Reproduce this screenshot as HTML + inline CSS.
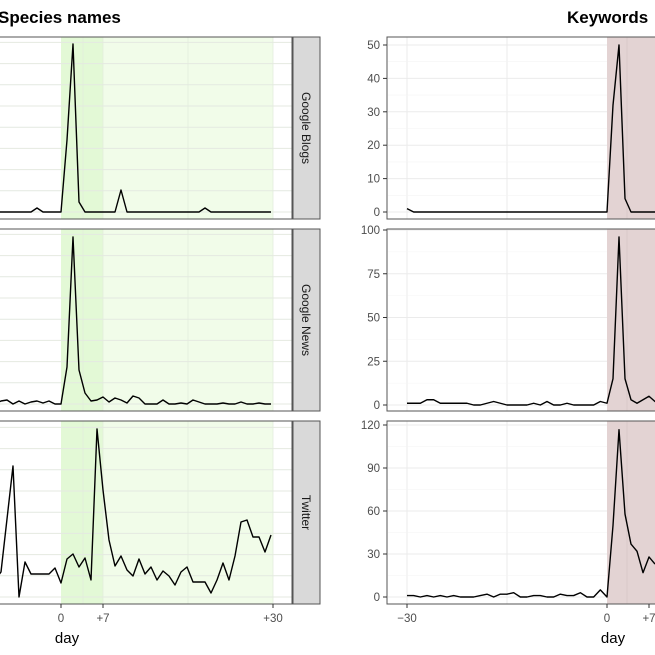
<!DOCTYPE html>
<html><head><meta charset="utf-8"><style>
body{margin:0;background:#fff;width:655px;height:655px;overflow:hidden}
svg{display:block;font-family:"Liberation Sans",sans-serif}
</style></head><body>
<svg id="s" width="655" height="655" xmlns="http://www.w3.org/2000/svg"></svg>
<script>
const S=document.getElementById('s');let h='';
const panels=[[37,219],[229,411],[421,604]];
function xl(d){return 61+6*d;}
function xr(d){return d<0?607+6.667*d:607+6*d;}
h+=`<text x="-2" y="23" font-size="17" font-weight="bold">Species names</text>`;
h+=`<text x="567" y="23" font-size="17" font-weight="bold">Keywords</text>`;
panels.forEach(([t,b])=>{
 h+=`<rect x="0" y="${t}" width="292" height="${b-t}" fill="#fff"/>`;
 h+=`<rect x="61" y="${t}" width="42" height="${b-t}" fill="#e3f9d6"/>`;
 h+=`<rect x="103" y="${t}" width="170" height="${b-t}" fill="#f1fce9"/>`;
 for(let k=0;k<9;k++){let y=b-7-k*21.2; if(y>t)h+=`<line x1="0" x2="292" y1="${y}" y2="${y}" stroke="#e4e9e1" stroke-width="1"/>`;}
 [83,103,188,273].forEach(x=>h+=`<line x1="${x}" x2="${x}" y1="${t}" y2="${b}" stroke="#e3ebdd" stroke-width="0.8"/>`);
 h+=`<rect x="-1" y="${t}" width="293" height="${b-t}" fill="none" stroke="#555" stroke-width="1"/>`;
 h+=`<rect x="293" y="${t}" width="27" height="${b-t}" fill="#d9d9d9" stroke="#555" stroke-width="1"/>`;
 h+=`<rect x="387" y="${t}" width="270" height="${b-t}" fill="#fff"/>`;
 h+=`<rect x="607" y="${t}" width="50" height="${b-t}" fill="#e3d3d3"/>`;
 [407,507].forEach(x=>h+=`<line x1="${x}" x2="${x}" y1="${t}" y2="${b}" stroke="#ebebeb" stroke-width="1"/>`);
 h+=`<line x1="627" x2="627" y1="${t}" y2="${b}" stroke="#d8c8c8" stroke-width="0.8"/>`;
 h+=`<rect x="387" y="${t}" width="270" height="${b-t}" fill="none" stroke="#555" stroke-width="1"/>`;
});
const strips=["Google Blogs","Google News","Twitter"];
panels.forEach(([t,b],i)=>{h+=`<text transform="translate(302,${(t+b)/2}) rotate(90)" text-anchor="middle" font-size="12" fill="#1a1a1a">${strips[i]}</text>`;});
const ry=[[212,33.4,[0,10,20,30,40,50]],[405,43.75,[0,25,50,75,100]],[597,43,[0,30,60,90,120]]];
ry.forEach(([z,step,labs],i)=>{labs.forEach((l,k)=>{let y=z-k*step;
 h+=`<line x1="388" x2="607" y1="${y}" y2="${y}" stroke="#ebebeb"/><line x1="383" x2="387" y1="${y}" y2="${y}" stroke="#333"/>`;
 h+=`<text x="380" y="${y+4}" text-anchor="end" font-size="11.5" fill="#4d4d4d">${l}</text>`;
 if(k<labs.length-1)h+=`<line x1="388" x2="607" y1="${y-step/2}" y2="${y-step/2}" stroke="#f4f4f4" stroke-width="0.6"/>`;});});
function pl(pts){return `<polyline fill="none" stroke="#000" stroke-width="1.4" stroke-linejoin="round" points="${pts.map(p=>p.join(',')).join(' ')}"/>`;}
let a=[];for(let d=-11;d<=35.3;d++){let y=212;if(d==-4)y=208;if(d==1)y=140;if(d==2)y=44;if(d==3)y=202;if(d==10)y=190;if(d==24)y=208;a.push([xl(d),y]);}
h+=pl(a);
let nv={'-10':401,'-9':400,'-8':404,'-7':401,'-6':404,'-5':402,'-4':401,'-3':403,'-2':401,'-1':404,'0':404,'1':367,'2':237,'3':370,'4':393,'5':401,'6':400,'7':397,'8':402,'9':398,'10':400,'11':403,'12':396,'13':398,'14':404,'15':404,'16':404,'17':400,'18':404,'19':404,'20':403,'21':404,'22':400,'23':402,'24':404,'25':404,'26':404,'27':403,'28':404,'29':404,'30':402,'31':404,'32':404,'33':403,'34':404,'35':404};
a=[];for(let d=-11;d<=35;d++){a.push([xl(d),nv[d]||404]);}h+=pl(a);
let tw=[[-11,580],[-10,572],[-8,466],[-7,597],[-6,562],[-5,574],[-4,574],[-3,574],[-2,574],[-1,568],[0,583],[1,559],[2,554],[3,567],[4,558],[5,580],[6,429],[7,490],[8,540],[9,566],[10,556],[11,570],[12,576],[13,559],[14,574],[15,567],[16,580],[17,571],[18,576],[19,585],[20,572],[21,567],[22,582],[23,582],[24,582],[25,593],[26,580],[27,563],[28,580],[29,556],[30,522],[31,520],[32,537],[33,537],[34,552],[35,535]];
h+=pl(tw.map(([d,y])=>[xl(d),y]));
const r1=[1,0,0,0,0,0,0,0,0,0,0,0,0,0,0,0,0,0,0,0,0,0,0,0,0,0,0,0,0,0,0,32,50,4,0,0,0,0,0,0];
const r2=[1,1,1,3,3,1,1,1,1,1,0,0,1,2,1,0,0,0,0,1,0,2,0,0,1,0,0,0,0,2,1,15,96,15,3,1,3,5,2,3];
function rp(arr,z,sc){return pl(arr.map((v,i)=>[xr(i-30),z-sc*v]));}
h+=rp(r1,212,3.34);
h+=rp(r2,405,1.75);
let r3b=[1,1,0,1,0,1,0,1,0,0,0,1,2,0,2,2,3,0,0,1,1,0,0,2,1,1,3,0,0,5,0,50,117,58,37,32,17,28,23];
h+=rp(r3b,597,1.43);
[[61,'0'],[103,'+7'],[273,'+30'],[407,'\u221230'],[607,'0'],[649,'+7']].forEach(([x,l])=>{h+=`<line x1="${x}" x2="${x}" y1="604" y2="608" stroke="#333"/><text x="${x}" y="622" text-anchor="middle" font-size="11.5" fill="#4d4d4d">${l}</text>`;});
h+=`<text x="67" y="643" text-anchor="middle" font-size="15" fill="#000">day</text>`;
h+=`<text x="613" y="643" text-anchor="middle" font-size="15" fill="#000">day</text>`;
S.innerHTML=h;
</script>
</body></html>
